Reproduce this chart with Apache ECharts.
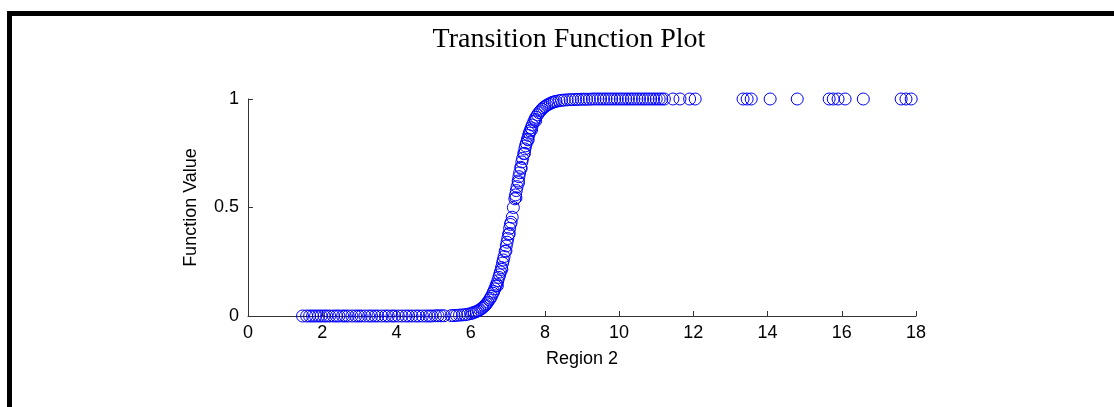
<!DOCTYPE html>
<html>
<head>
<meta charset="utf-8">
<script src="https://cdn.jsdelivr.net/npm/echarts@6/dist/echarts.min.js"></script>
<style>
html,body{margin:0;padding:0;background:#fff;}
#chart{width:1114px;height:407px;}
</style>
</head>
<body>
<div id="chart"></div>
<script>
const titleText = 'Transition Function Plot';
const xAxisName = 'Region 2';
const yAxisName = 'Function Value';
const yTickLabels = {0: '0', 0.5: '0.5', 1: '1'};

const lowerPlateau = [
  [1.47,0.000],[1.58,0.000],[1.66,0.000],[1.74,0.000],[1.82,0.000],[1.90,0.000],[1.97,0.000],
  [2.05,0.000],[2.12,0.000],[2.20,0.000],[2.30,0.000],[2.38,0.000],[2.45,0.000],[2.55,0.000],
  [2.62,0.000],[2.70,0.000],[2.80,0.000],[2.90,0.000],[2.98,0.000],[3.05,0.000],[3.15,0.000],
  [3.25,0.000],[3.33,0.000],[3.42,0.000],[3.50,0.000],[3.60,0.000],[3.70,0.000],[3.78,0.000],
  [3.88,0.000],[3.95,0.000],[4.05,0.000],[4.15,0.000],[4.25,0.000],[4.33,0.000],[4.42,0.000],
  [4.52,0.000],[4.60,0.000],[4.70,0.000],[4.80,0.000],[4.88,0.000],[4.95,0.000],[5.05,0.001],
  [5.12,0.001],[5.20,0.001],[5.28,0.001],[5.48,0.002],[5.55,0.002],[5.62,0.003],[5.70,0.004],
  [5.78,0.005],[5.85,0.006],[5.92,0.008],[6.00,0.011],[6.05,0.014],[6.10,0.017]
];

const transition = [
  [6.15,0.020],[6.20,0.024],[6.25,0.029],[6.30,0.035],[6.33,0.040],[6.37,0.046],[6.40,0.051],
  [6.43,0.057],[6.46,0.064],[6.50,0.074],[6.53,0.082],[6.56,0.091],[6.60,0.105],[6.62,0.113],
  [6.65,0.125],[6.68,0.138],[6.70,0.147],[6.73,0.162],[6.76,0.178],[6.78,0.190],[6.80,0.203],
  [6.83,0.223],[6.86,0.244],[6.88,0.258],[6.90,0.274],[6.93,0.298],[6.96,0.323],[6.98,0.340],
  [7.00,0.357],[7.02,0.376],[7.05,0.404],[7.07,0.422],[7.09,0.432],[7.15,0.500],[7.19,0.540],
  [7.21,0.558],[7.23,0.578],[7.25,0.596],[7.28,0.622],[7.30,0.642],[7.32,0.660],[7.35,0.685],
  [7.38,0.710],[7.40,0.726],[7.43,0.748],[7.46,0.770],[7.48,0.784],[7.50,0.797],[7.53,0.815],
  [7.56,0.832],[7.58,0.843],[7.60,0.853],[7.63,0.867],[7.66,0.880],[7.70,0.895],[7.73,0.906],
  [7.76,0.916],[7.80,0.927],[7.84,0.937],[7.88,0.945],[7.92,0.953],[7.96,0.960],[8.00,0.965],
  [8.05,0.971],[8.10,0.976],[8.15,0.980],[8.20,0.984],[8.25,0.987],[8.30,0.989],[8.38,0.992],
  [8.45,0.994],[8.52,0.995],
  [6.72,0.140],[6.84,0.215],[6.95,0.300],[7.04,0.380],[7.12,0.455],[7.22,0.545],[7.29,0.615],
  [7.36,0.680],[7.45,0.750],[7.55,0.812],[7.64,0.858],[7.75,0.900]
];

const upperPlateau = [
  [8.60,0.996],[8.68,0.997],[8.75,0.997],[8.83,0.998],[8.90,0.998],[8.98,0.999],[9.05,0.999],
  [9.12,0.999],[9.20,0.999],[9.28,1],[9.35,1],[9.43,1],[9.50,1],[9.58,1],[9.65,1],[9.73,1],
  [9.80,1],[9.88,1],[9.95,1],[10.03,1],[10.10,1],[10.18,1],[10.25,1],[10.33,1],[10.40,1],
  [10.48,1],[10.55,1],[10.63,1],[10.70,1],[10.78,1],[10.85,1],[10.93,1],[11.00,1],[11.08,1],
  [11.15,1],[11.22,1],[11.45,1],[11.64,1],[11.90,1],[12.05,1],[13.34,1],[13.45,1],[13.56,1],
  [14.07,1],[14.80,1],[15.66,1],[15.77,1],[15.90,1],[16.09,1],[16.58,1],[17.60,1],[17.73,1],
  [17.87,1]
];

const points = lowerPlateau.concat(transition, upperPlateau);

const chart = echarts.init(document.getElementById('chart'), null, {renderer: 'canvas'});
const axisColor = '#333';
const fontSans = '"Liberation Sans", Arial, Helvetica, sans-serif';
chart.setOption({
  backgroundColor: '#fff',
  animation: false,
  grid: {left: 248, right: 198, top: 99, bottom: 91},
  graphic: [
    {type: 'rect', shape: {x: 7, y: 11, width: 1107, height: 5}, style: {fill: '#000'}},
    {type: 'rect', shape: {x: 7, y: 11, width: 5, height: 396}, style: {fill: '#000'}},
    {type: 'text', x: 569, y: 26, style: {text: titleText, font: '28px "Liberation Serif", "Times New Roman", serif', fill: '#000', align: 'center', textAlign: 'center', verticalAlign: 'top'}}
  ],
  xAxis: {
    type: 'value', min: 0, max: 18, interval: 2,
    name: xAxisName, nameLocation: 'middle', nameGap: 34,
    nameTextStyle: {fontFamily: fontSans, fontSize: 18, color: '#000'},
    axisLine: {show: true, lineStyle: {color: axisColor, width: 1}},
    axisTick: {show: true, inside: true, length: 5, lineStyle: {color: axisColor}},
    axisLabel: {fontFamily: fontSans, fontSize: 18, color: '#000', margin: 8},
    splitLine: {show: false}
  },
  yAxis: {
    type: 'value', min: 0, max: 1, interval: 0.5,
    name: yAxisName, nameLocation: 'middle', nameGap: 48, nameRotate: 90,
    nameTextStyle: {fontFamily: fontSans, fontSize: 18, color: '#000'},
    axisLine: {show: true, lineStyle: {color: axisColor, width: 1}},
    axisTick: {show: true, inside: true, length: 5, lineStyle: {color: axisColor}},
    axisLabel: {fontFamily: fontSans, fontSize: 18, color: '#000', margin: 9,
      formatter: v => yTickLabels[v] !== undefined ? yTickLabels[v] : ''},
    splitLine: {show: false}
  },
  series: [{
    type: 'scatter',
    data: points,
    symbol: 'circle',
    symbolSize: 12,
    itemStyle: {color: 'rgba(0,0,0,0)', borderColor: '#0000ff', borderWidth: 1, opacity: 1},
    emphasis: {disabled: true}
  }]
});
</script>
</body>
</html>
